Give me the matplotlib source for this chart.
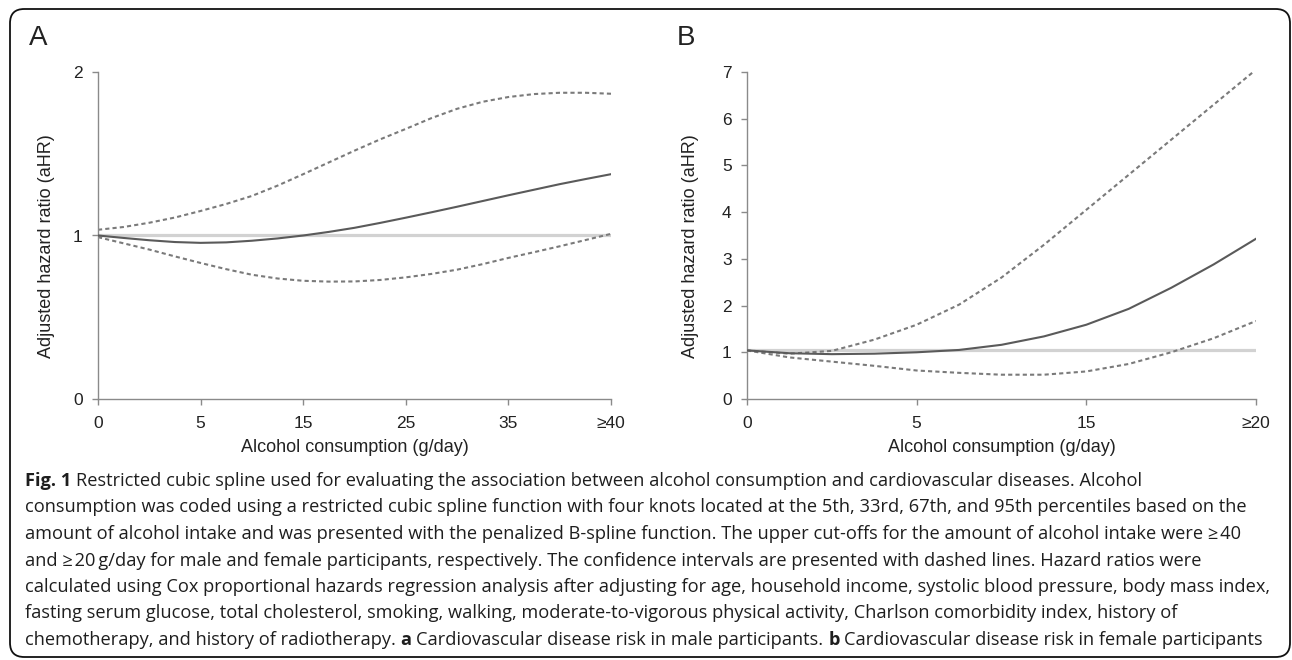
import matplotlib
matplotlib.use('Agg')
import matplotlib.pyplot as plt
from matplotlib.patches import FancyBboxPatch

W, H, DPI = 1292, 660, 100

# ---------------- data ----------------
# Panel A (male): x in category-position units (ticks 0..5)
a_tick_labels = ['0', '5', '15', '25', '35', '≥40']
a_x = [0, 0.25, 0.5, 0.75, 1, 1.25, 1.5, 1.75, 2, 2.25, 2.5, 2.75, 3,
       3.25, 3.5, 3.75, 4, 4.25, 4.5, 4.75, 5]
a_hr = [1.0, 0.985, 0.971, 0.96, 0.955, 0.958, 0.968, 0.982, 1.0, 1.022, 1.047,
        1.077, 1.109, 1.142, 1.176, 1.211, 1.246, 1.28, 1.314, 1.345, 1.375]
a_upper = [1.035, 1.052, 1.078, 1.11, 1.15, 1.193, 1.242, 1.305, 1.375, 1.447, 1.519,
           1.588, 1.652, 1.718, 1.775, 1.818, 1.847, 1.865, 1.873, 1.873, 1.867]
a_lower = [0.99, 0.952, 0.914, 0.872, 0.832, 0.794, 0.76, 0.737, 0.723, 0.718, 0.719,
           0.728, 0.744, 0.765, 0.791, 0.825, 0.863, 0.898, 0.934, 0.972, 1.01]
a_ref = 1.0
a_yticks = [0, 1, 2]

# Panel B (female): ticks 0..3
b_tick_labels = ['0', '5', '15', '≥20']
b_x = [0, 0.25, 0.5, 0.75, 1, 1.25, 1.5, 1.75, 2, 2.25, 2.5, 2.75, 3]
b_hr = [1.04, 0.98, 0.96, 0.97, 1.0, 1.05, 1.16, 1.34, 1.59, 1.93, 2.38, 2.88, 3.43]
b_upper = [1.04, 0.97, 1.03, 1.27, 1.59, 2.02, 2.6, 3.3, 4.05, 4.8, 5.55, 6.3, 7.05]
b_lower = [1.04, 0.89, 0.80, 0.71, 0.61, 0.56, 0.52, 0.52, 0.59, 0.75, 1.0, 1.30, 1.67]
b_ref = 1.04
b_yticks = [0, 1, 2, 3, 4, 5, 6, 7]

x_label = 'Alcohol consumption (g/day)'
y_label = 'Adjusted hazard ratio (aHR)'
panel_letters = ['A', 'B']

caption_lines = [
    [('Fig. 1', True), ('Restricted cubic spline used for evaluating the association between alcohol consumption and cardiovascular diseases. Alcohol', False)],
    [('consumption was coded using a restricted cubic spline function with four knots located at the 5th, 33rd, 67th, and 95th percentiles based on the', False)],
    [('amount of alcohol intake and was presented with the penalized B-spline function. The upper cut-offs for the amount of alcohol intake were \u2265\u200a40', False)],
    [('and \u2265\u200a20\u2009g/day for male and female participants, respectively. The confidence intervals are presented with dashed lines. Hazard ratios were', False)],
    [('calculated using Cox proportional hazards regression analysis after adjusting for age, household income, systolic blood pressure, body mass index,', False)],
    [('fasting serum glucose, total cholesterol, smoking, walking, moderate-to-vigorous physical activity, Charlson comorbidity index, history of', False)],
    [('chemotherapy, and history of radiotherapy.', False), ('a', True), ('Cardiovascular disease risk in male participants.', False),
     ('b', True), ('Cardiovascular disease risk in female participants', False)],
]

# ---------------- styles ----------------
AX_FONT = ['Liberation Sans', 'DejaVu Sans']
CAP_FONT = ['Open Sans', 'DejaVu Sans']
SPINE_C = '#8a8a8a'
TXT_C = '#222222'

plt.rcParams['font.family'] = AX_FONT

fig = plt.figure(figsize=(W / DPI, H / DPI), dpi=DPI)
fig.patch.set_facecolor('white')


def fx(px):
    return px / W


def fy(py):
    return 1 - py / H


def make_axes(left, right, top, bottom):
    return fig.add_axes([fx(left), fy(bottom), fx(right - left), (bottom - top) / H])


def style_axes(ax, ticklabels, yticks, xs, hr, up, lo, ref, ylab_x_px, left_px):
    n = len(ticklabels) - 1
    ax.plot([0, n], [ref, ref], color='#d2d2d2', lw=2.3, solid_capstyle='butt', zorder=1)
    ax.plot(xs, up, color='#7a7a7a', lw=1.5, linestyle=(0, (2.0, 1.5)), zorder=2)
    ax.plot(xs, lo, color='#7a7a7a', lw=1.5, linestyle=(0, (2.0, 1.5)), zorder=2)
    ax.plot(xs, hr, color='#5a5a5a', lw=1.5, zorder=3)
    ax.set_xlim(0, n)
    ax.set_ylim(yticks[0], yticks[-1])
    ax.set_xticks(range(n + 1))
    ax.set_xticklabels(ticklabels)
    ax.set_yticks(yticks)
    ax.set_yticklabels([str(v) for v in yticks])
    for s in ['top', 'right']:
        ax.spines[s].set_visible(False)
    for s in ['left', 'bottom']:
        ax.spines[s].set_color(SPINE_C)
        ax.spines[s].set_linewidth(1.0)
    ax.tick_params(axis='both', direction='out', length=4, width=1.0, color=SPINE_C,
                   labelsize=12.5, labelcolor=TXT_C)
    ax.tick_params(axis='x', pad=8)
    ax.tick_params(axis='y', pad=7)
    ax.set_xlabel(x_label, fontsize=13, color=TXT_C, labelpad=6)
    ax.set_ylabel(y_label, fontsize=13, color=TXT_C)
    bb_w = ax.get_position().width * W
    ax.yaxis.set_label_coords((ylab_x_px - left_px) / bb_w, 0.468)


axA = make_axes(98, 611, 72, 399)
style_axes(axA, a_tick_labels, a_yticks, a_x, a_hr, a_upper, a_lower, a_ref, 55, 98)

axB = make_axes(747, 1256, 72, 399)
style_axes(axB, b_tick_labels, b_yticks, b_x, b_hr, b_upper, b_lower, b_ref, 699, 747)

# panel letters
fig.text(fx(38), fy(38), panel_letters[0], fontsize=20, color=TXT_C, ha='center', va='center',
         family=AX_FONT)
fig.text(fx(686), fy(38), panel_letters[1], fontsize=20, color=TXT_C, ha='center', va='center',
         family=AX_FONT)

# outer rounded frame
frame = FancyBboxPatch((fx(10), fy(657)), fx(1290 - 10), (657 - 9) / H,
                       boxstyle='round,pad=0,rounding_size=0.011',
                       transform=fig.transFigure, fill=False, edgecolor='#111111',
                       linewidth=1.3, mutation_aspect=W / H)
fig.patches.append(frame)

# ---------------- caption ----------------
renderer = fig.canvas.get_renderer()


def text_width(s, size, bold):
    t = fig.text(0, 0, s, fontsize=size, fontweight='bold' if bold else 'normal', family=CAP_FONT)
    w = t.get_window_extent(renderer).width
    t.remove()
    return w


ref_size = 10.0
target_w = 1250.0
longest = caption_lines[4][0][0]
cap_size = ref_size * target_w / text_width(longest, ref_size, False)
space_w = text_width('a a', cap_size, False) - text_width('aa', cap_size, False)

x0 = 25
line_centers = [481, 507.5, 534, 560.5, 587, 613.5, 640]
for pieces, yc in zip(caption_lines, line_centers):
    x = x0
    for i, (s, bold) in enumerate(pieces):
        t = fig.text(fx(x), fy(yc + 5), s, fontsize=cap_size,
                     fontweight='bold' if bold else 'normal', family=CAP_FONT,
                     ha='left', va='baseline', color='#1e1e1e')
        x += t.get_window_extent(renderer).width + space_w

fig.savefig('out.png', dpi=DPI, facecolor='white')
